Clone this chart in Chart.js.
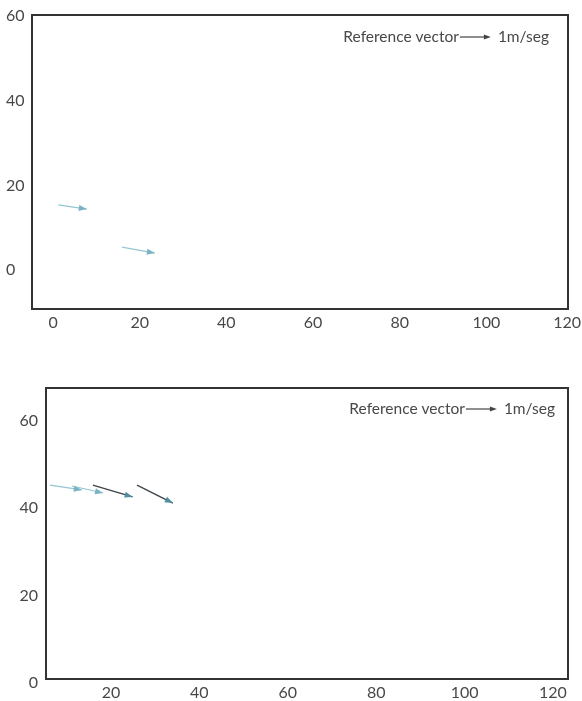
<!DOCTYPE html>
<html><head><meta charset="utf-8">
<script src="https://cdn.jsdelivr.net/npm/chart.js@4.4.1/dist/chart.umd.min.js"></script>
<style>
html,body{margin:0;padding:0;background:#fff;}
canvas{position:absolute;left:0;}
#c1{top:0;} #c2{top:350px;}
</style></head>
<body>
<canvas id="c1" width="582" height="350"></canvas>
<canvas id="c2" width="582" height="351"></canvas>
<script>
// ---- data ----
const topXTicks = [0, 20, 40, 60, 80, 100, 120];
const topYTicks = [0, 20, 40, 60];
const topStartX = [1.2, 15.9];
const topStartY = [15.4, 5.4];
const topEndX   = [7.8, 23.5];
const topEndY   = [14.4, 4.0];
const topShade  = ['light', 'light'];

const botXTicks = [20, 40, 60, 80, 100, 120];
const botYTicks = [0, 20, 40, 60];
const botStartX = [6.2, 11.2, 15.9, 25.9];
const botStartY = [45.3, 45.1, 45.3, 45.3];
const botEndX   = [13.4, 18.2, 24.9, 34.0];
const botEndY   = [44.2, 43.5, 42.6, 41.2];
const botShade  = ['light', 'light', 'dark', 'dark'];

const refLabel = 'Reference vector';
const refUnit = '1m/seg';

const COLORS = {
  light: {line: '#93c6d3', head: '#79b3c4'},
  dark:  {line: '#3d4347', head: '#4f8e9c'}
};
const FONT = 'Lato, "Open Sans", sans-serif';

function makeDatasets(sx, sy, ex, ey, shade) {
  return sx.map((v, i) => ({
    data: [{x: sx[i], y: sy[i]}, {x: ex[i], y: ey[i]}],
    borderColor: COLORS[shade[i]].line,
    headColor: COLORS[shade[i]].head,
    borderWidth: shade[i] === 'dark' ? 1.3 : 1.2,
    pointRadius: 0,
    showLine: true,
    fill: false
  }));
}

const arrowHeads = {
  id: 'arrowHeads',
  afterDatasetsDraw(chart) {
    const ctx = chart.ctx;
    chart.data.datasets.forEach((ds, i) => {
      const pts = chart.getDatasetMeta(i).data;
      if (pts.length < 2) return;
      const a = pts[0], b = pts[1];
      const ang = Math.atan2(b.y - a.y, b.x - a.x);
      const L = 8, W = 3;
      ctx.save();
      ctx.fillStyle = ds.headColor;
      ctx.beginPath();
      ctx.moveTo(b.x, b.y);
      ctx.lineTo(b.x - L * Math.cos(ang) + W * Math.sin(ang), b.y - L * Math.sin(ang) - W * Math.cos(ang));
      ctx.lineTo(b.x - L * Math.cos(ang) - W * Math.sin(ang), b.y - L * Math.sin(ang) + W * Math.cos(ang));
      ctx.closePath();
      ctx.fill();
      ctx.restore();
    });
  }
};

function framePlugin(opt) {
  return {
    id: 'frame',
    afterDraw(chart) {
      const ctx = chart.ctx, ca = chart.chartArea;
      const xs = chart.scales.x, ys = chart.scales.y;
      ctx.save();
      // box
      ctx.strokeStyle = '#333';
      ctx.lineWidth = 2;
      ctx.strokeRect(ca.left, ca.top, ca.right - ca.left, ca.bottom - ca.top);
      // tick labels
      ctx.fillStyle = '#484848';
      ctx.font = '16px ' + FONT;
      ctx.textBaseline = 'middle';
      ctx.textAlign = 'center';
      opt.xTicks.forEach(v => {
        const t = String(v), w = ctx.measureText(t).width;
        const px = Math.min(xs.getPixelForValue(v), chart.width - w / 2 - 1);
        ctx.fillText(t, px, opt.xLabelY);
      });
      ctx.textAlign = opt.yAlign;
      opt.yTicks.forEach(v => ctx.fillText(String(v), opt.yLabelX, ys.getPixelForValue(v)));
      // reference vector
      ctx.font = '15.5px ' + FONT;
      ctx.fillStyle = '#484848';
      ctx.textAlign = 'right';
      const rx = opt.refRight, ry = opt.refY;
      ctx.fillText(refUnit, rx, ry);
      const uw = ctx.measureText(refUnit).width;
      const ae = rx - uw - 7, as = ae - 31;
      ctx.strokeStyle = '#444';
      ctx.lineWidth = 1.2;
      ctx.beginPath(); ctx.moveTo(as, ry); ctx.lineTo(ae - 4, ry); ctx.stroke();
      ctx.beginPath(); ctx.moveTo(ae, ry); ctx.lineTo(ae - 7, ry - 2.5); ctx.lineTo(ae - 7, ry + 2.5); ctx.closePath();
      ctx.fillStyle = '#444'; ctx.fill();
      ctx.fillStyle = '#484848';
      ctx.fillText(refLabel, as - 1, ry);
      ctx.restore();
    }
  };
}

function build(id, cfg) {
  return new Chart(document.getElementById(id), {
    type: 'scatter',
    data: {datasets: cfg.datasets},
    options: {
      responsive: false,
      animation: false,
      devicePixelRatio: 1,
      layout: {padding: {top: cfg.padTop, right: cfg.padRight, left: 0, bottom: 0}},
      plugins: {legend: {display: false}, tooltip: {enabled: false}},
      scales: {
        x: {type: 'linear', min: cfg.xMin, max: cfg.xMax,
            ticks: {display: false}, grid: {display: false}, border: {display: false},
            afterFit: s => { s.height = cfg.xAxisH; }},
        y: {type: 'linear', min: cfg.yMin, max: cfg.yMax,
            ticks: {display: false}, grid: {display: false}, border: {display: false},
            afterFit: s => { s.width = cfg.yAxisW; }}
      }
    },
    plugins: [arrowHeads, framePlugin(cfg.frame)]
  });
}

build('c1', {
  datasets: makeDatasets(topStartX, topStartY, topEndX, topEndY, topShade),
  padTop: 15, padRight: 14, xAxisH: 41, yAxisW: 32,
  xMin: -4.85, xMax: 118.85, yMin: -9.2, yMax: 60.25,
  frame: {xTicks: topXTicks, yTicks: topYTicks, xLabelY: 323, yLabelX: 6, yAlign: 'left',
          refRight: 549, refY: 37}
});

build('c2', {
  datasets: makeDatasets(botStartX, botStartY, botEndX, botEndY, botShade),
  padTop: 38, padRight: 14, xAxisH: 22, yAxisW: 46,
  xMin: 5.3, xMax: 123.4, yMin: 0.9, yMax: 67.55,
  frame: {xTicks: botXTicks, yTicks: botYTicks, xLabelY: 343, yLabelX: 38, yAlign: 'right',
          refRight: 555, refY: 59}
});
</script>
</body></html>
